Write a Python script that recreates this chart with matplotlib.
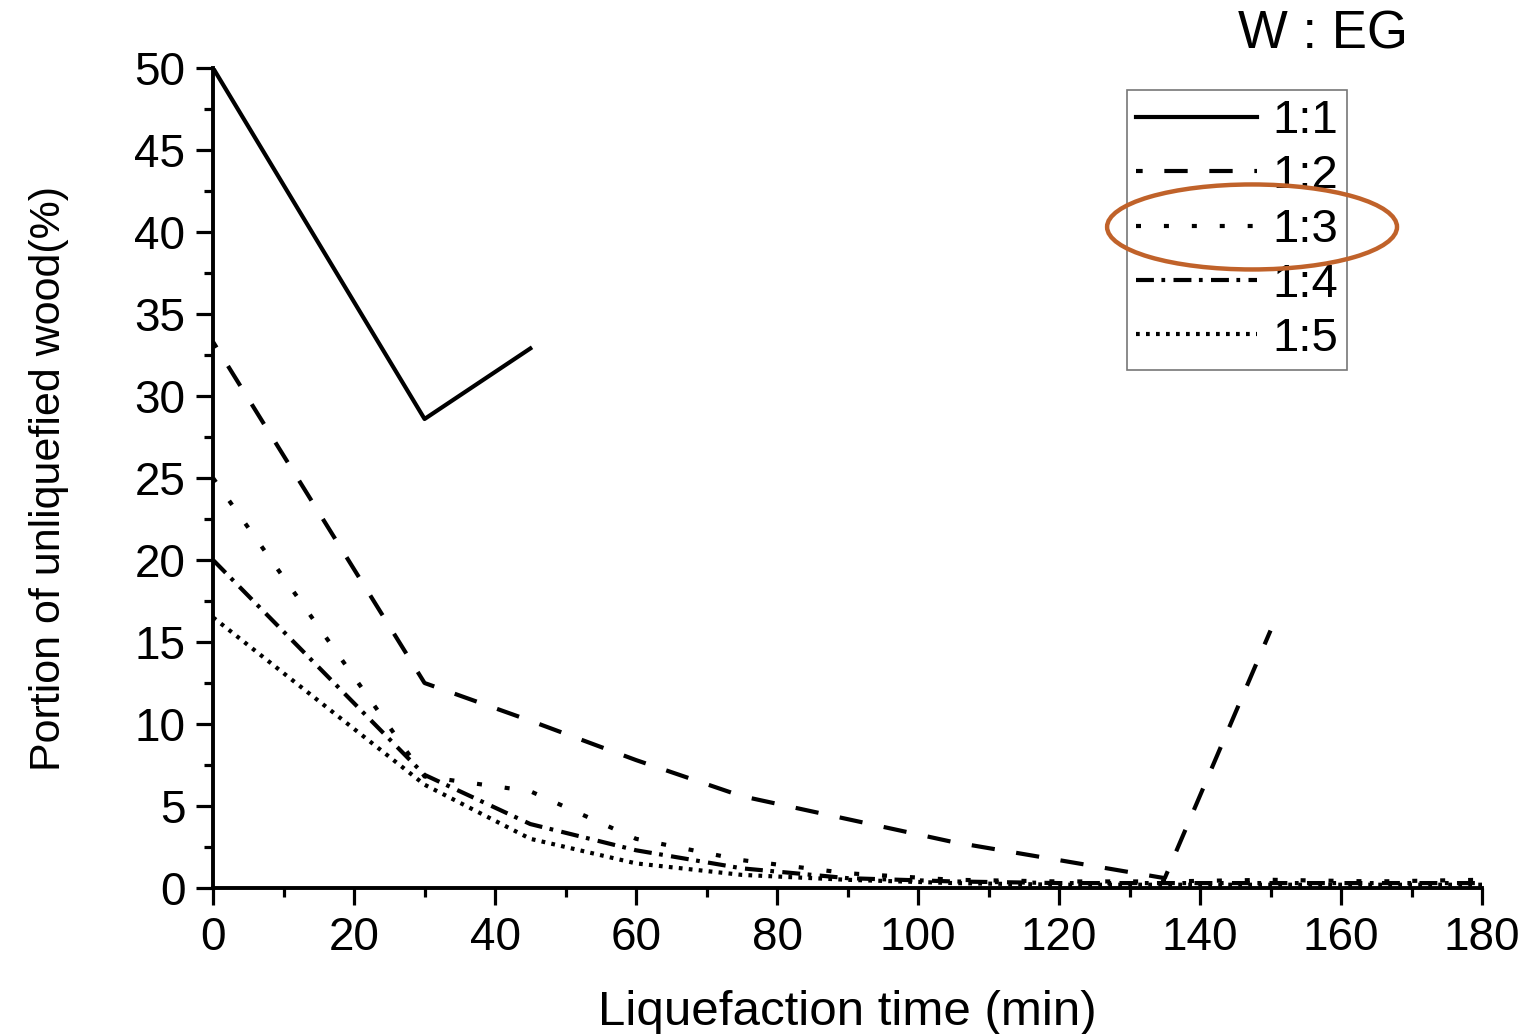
import numpy as np
import matplotlib.pyplot as plt
from matplotlib.patches import Ellipse
from matplotlib.ticker import MultipleLocator

plt.rcParams['font.family'] = ['Liberation Sans', 'DejaVu Sans']

# tid (min) och andel ovätskad ved (%) för varje W:EG-förhållande
t_11 = [0, 30, 45]
y_11 = [50.0, 28.6, 32.9]

t_12 = [0, 30, 45, 60, 75, 90, 105, 120, 135, 150]
y_12 = [33.3, 12.5, 10.2, 7.8, 5.6, 4.2, 2.8, 1.7, 0.6, 15.7]

t_13 = [0, 30, 45, 60, 75, 90, 105, 120, 135, 150, 165, 180]
y_13 = [25.0, 6.8, 5.9, 3.0, 1.7, 0.9, 0.5, 0.4, 0.4, 0.5, 0.4, 0.5]

t_14 = [0, 30, 45, 60, 75, 90, 105, 120, 135, 150, 165, 180]
y_14 = [20.0, 6.9, 3.9, 2.3, 1.2, 0.6, 0.4, 0.3, 0.3, 0.3, 0.3, 0.3]

t_15 = [0, 30, 45, 60, 75, 90, 105, 120, 135, 150, 165, 180]
y_15 = [16.5, 6.3, 3.0, 1.5, 0.8, 0.5, 0.3, 0.2, 0.2, 0.2, 0.2, 0.2]

etiketter = ["1:1", "1:2", "1:3", "1:4", "1:5"]

fig = plt.figure(figsize=(15.34, 10.34), dpi=100)
ax = fig.add_axes([0.1389, 0.1412, 0.8272, 0.7930])

lw = 3.0
ax.plot(t_11, y_11, color="black", lw=lw, linestyle="-", label=etiketter[0])
ax.plot(t_12, y_12, color="black", lw=lw, linestyle=(4, (5.6, 5.2)), label=etiketter[1])
ax.plot(t_13, y_13, color="black", lw=lw, linestyle=(0, (1.2, 5.5)), label=etiketter[2])
ax.plot(t_14, y_14, color="black", lw=lw, linestyle=(0, (4.3, 1.8, 0.9, 2)), label=etiketter[3])
ax.plot(t_15, y_15, color="black", lw=lw, linestyle=(0, (0.9, 1.5)), label=etiketter[4])

ax.set_xlim(0, 180)
ax.set_ylim(0, 50)
ax.xaxis.set_major_locator(MultipleLocator(20))
ax.xaxis.set_minor_locator(MultipleLocator(10))
ax.yaxis.set_major_locator(MultipleLocator(5))
ax.yaxis.set_minor_locator(MultipleLocator(2.5))
ax.spines["top"].set_visible(False)
ax.spines["right"].set_visible(False)
ax.spines["left"].set_linewidth(2.8)
ax.spines["bottom"].set_linewidth(2.8)
ax.tick_params(which="major", direction="out", length=12, width=2.3, labelsize=33)
ax.tick_params(axis="x", which="major", pad=8)
ax.tick_params(axis="y", which="major", pad=8)
ax.tick_params(which="minor", direction="out", length=6.5, width=2.3)

ax.set_xlabel("Liquefaction time (min)", fontsize=35.5, labelpad=22)
ax.set_ylabel("Portion of unliquefied wood(%)", fontsize=31, labelpad=47)

leg = ax.legend(loc="upper left", bbox_to_anchor=(0.7347, 0.913),
                bbox_transform=fig.transFigure, fontsize=34, frameon=True,
                fancybox=False, edgecolor="#555555", handlelength=2.55,
                handletextpad=0.32, labelspacing=0.22, borderpad=0.2,
                borderaxespad=0)
leg.get_frame().set_linewidth(1.2)

fig.text(0.8625, 0.967, "W : EG", fontsize=38, ha="center", va="center")

ring = Ellipse((0.8162, 0.7805), 0.189, 0.0822, transform=fig.transFigure,
               fill=False, edgecolor="#C0622A", lw=3.2, zorder=10)
fig.add_artist(ring)

plt.savefig("out.png", dpi=100)
